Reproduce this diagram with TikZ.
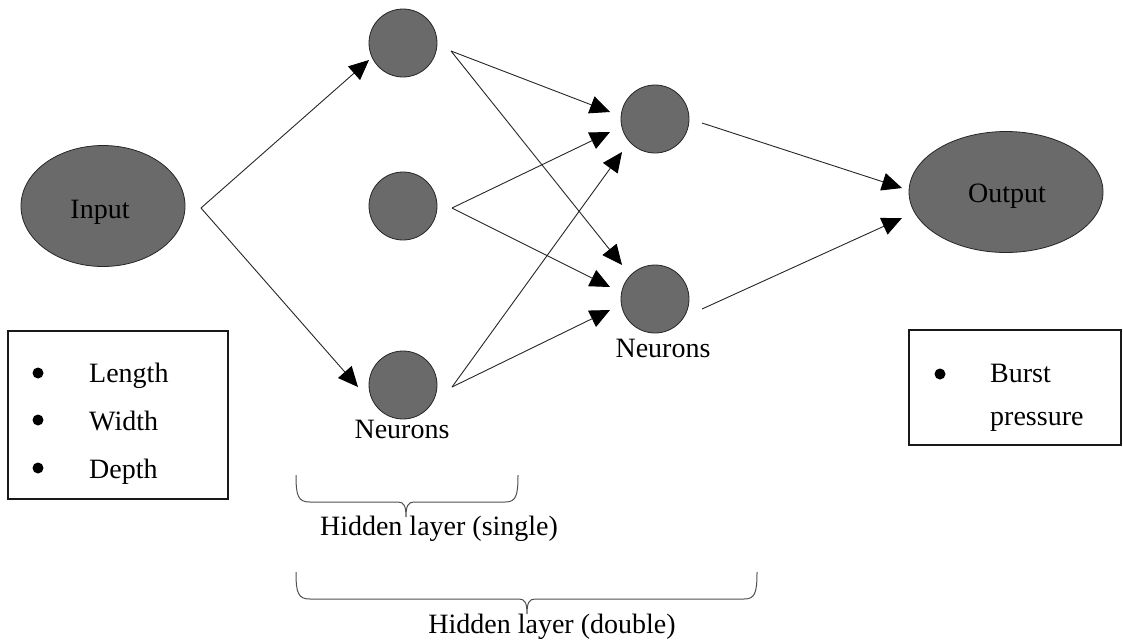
\documentclass[tikz,border=0pt]{standalone}
\usepackage{fontspec}
\setmainfont{Liberation Serif}
\usetikzlibrary{arrows.meta,calc,shapes.geometric}
\definecolor{nodegray}{RGB}{106,106,106}
\definecolor{bracegray}{RGB}{80,80,80}

\begin{document}
\begin{tikzpicture}[x=1pt,y=-1pt,
  every node/.style={font=\fontsize{28}{32}\selectfont},
  neuron/.style={circle, draw=black!85, fill=nodegray, line width=0.8pt,
                 minimum size=68pt, inner sep=0pt},
  endnode/.style={ellipse, draw=black!85, fill=nodegray, line width=0.8pt,
                  inner sep=0pt},
  link/.style={draw=black!85, line width=0.9pt,
               -{Triangle[length=20pt,width=18pt,color=black]}},
  listbox/.style={draw=black!90, line width=1.3pt, inner sep=0pt},
  bulletdot/.style={circle, fill=black, minimum size=11pt, inner sep=0pt},
  brace/.style={draw=bracegray, line width=1pt},
  txt/.style={anchor=base west, inner sep=0pt},
  ctxt/.style={anchor=base, inner sep=0pt}]

\useasboundingbox (0,0) rectangle (1123,641);

% input and output nodes
\node[endnode, minimum width=164pt, minimum height=121pt] (inp) at (103,206) {};
\node[ctxt] (inplbl) at (100,218) {Input};
\node[endnode, minimum width=194pt, minimum height=121pt] (out) at (1006,192) {};
\node[ctxt] (outlbl) at (1007,202) {Output};

% single hidden layer
\node[neuron] (h1) at (403,43) {};
\node[neuron] (h2) at (403,206) {};
\node[neuron] (h3) at (403,385) {};
\node[ctxt] (hlbl) at (402,438) {Neurons};

% second hidden layer
\node[neuron] (a) at (655,119) {};
\node[neuron] (b) at (655,299) {};
\node[ctxt] (blbl) at (663,357) {Neurons};

% arrow ends
\coordinate (inpO) at ($(inp)+(98,2)$);
\coordinate (h1I) at ($(h1)+(-34,17)$);
\coordinate (h3I) at ($(h3)+(-45,2)$);
\coordinate (h1O) at ($(h1)+(48,8)$);
\coordinate (h2O) at ($(h2)+(49,2)$);
\coordinate (h3O) at ($(h3)+(49,2)$);
\coordinate (aI1) at ($(a)+(-45,-7)$);
\coordinate (aI2) at ($(a)+(-45,13)$);
\coordinate (aI3) at ($(a)+(-33,33)$);
\coordinate (bI1) at ($(b)+(-33,-34)$);
\coordinate (bI2) at ($(b)+(-45,-12)$);
\coordinate (bI3) at ($(b)+(-45,11)$);
\coordinate (aO) at ($(a)+(47,4)$);
\coordinate (bO) at ($(b)+(47,10)$);
\coordinate (outI1) at ($(out)+(-104,-4)$);
\coordinate (outI2) at ($(out)+(-104,26)$);

% connections
\draw[link] (inpO) -- (h1I);
\draw[link] (inpO) -- (h3I);
\draw[link] (h1O) -- (aI1);
\draw[link] (h1O) -- (bI1);
\draw[link] (h2O) -- (aI2);
\draw[link] (h2O) -- (bI2);
\draw[link] (h3O) -- (aI3);
\draw[link] (h3O) -- (bI3);
\draw[link] (aO) -- (outI1);
\draw[link] (bO) -- (outI2);

% input variables
\node[listbox, minimum width=220pt, minimum height=168pt] (inbox) at (118,415) {};
\node[bulletdot] (bl1) at (38,373) {};
\node[bulletdot] (bl2) at (38,420) {};
\node[bulletdot] (bl3) at (38,468) {};
\node[txt] (len) at (89,382) {Length};
\node[txt] (wid) at (89,430) {Width};
\node[txt] (dep) at (89,478) {Depth};

% output variable
\node[listbox, minimum width=212pt, minimum height=115pt] (outbox) at (1015,387.5) {};
\node[bulletdot] (bl4) at (940,374) {};
\node[txt] (bur) at (990,382) {Burst};
\node[txt] (pre) at (990,425) {pressure};

% braces
\draw[brace] (296,475) .. controls (296,496) and (298,502) .. (310,502)
  -- (398,502) .. controls (404,502) and (406,506) .. (406,517)
  .. controls (406,506) and (408,502) .. (414,502)
  -- (505,502) .. controls (516,502) and (518,496) .. (518,475);
\node[ctxt] (single) at (439,535) {Hidden layer (single)};

\draw[brace] (296,572) .. controls (296,593) and (298,599) .. (310,599)
  -- (519,599) .. controls (525,599) and (527,603) .. (527,614)
  .. controls (527,603) and (529,599) .. (535,599)
  -- (744,599) .. controls (755,599) and (757,593) .. (757,572);
\node[ctxt] (double) at (552,633) {Hidden layer (double)};
\end{tikzpicture}
\end{document}
